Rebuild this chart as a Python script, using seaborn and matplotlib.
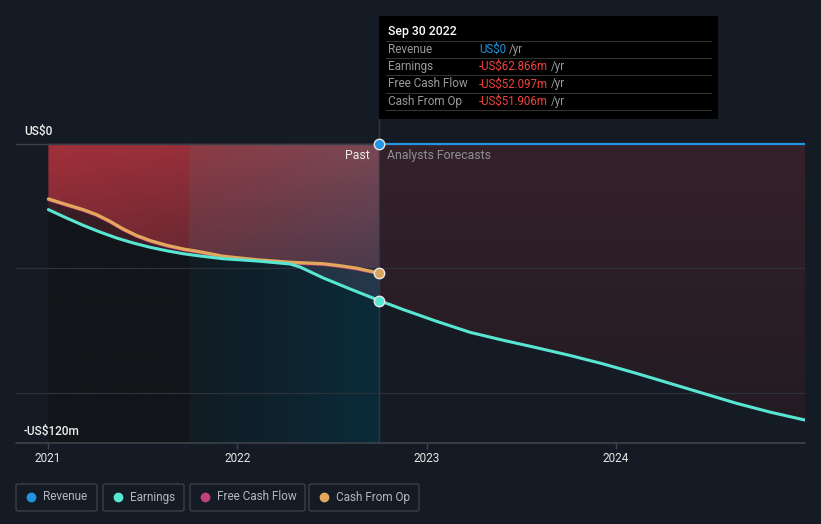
import numpy as np
import pandas as pd
import matplotlib
matplotlib.use("Agg")
import matplotlib.pyplot as plt
import seaborn as sns
from matplotlib.colors import to_rgba
from matplotlib.patches import Rectangle, FancyBboxPatch

# ---------------- data (US$ m, decimal years) ----------------
earn_past_t = [2021.002, 2021.099, 2021.186, 2021.275, 2021.363, 2021.451, 2021.539, 2021.627,
               2021.715, 2021.803, 2021.926, 2022.103, 2022.278, 2022.331, 2022.454, 2022.595,
               2022.750]
earn_past_v = [-26.4, -29.8, -32.7, -35.4, -37.8, -39.8, -41.5, -42.9,
               -44.1, -45.0, -46.1, -47.0, -48.2, -49.4, -53.8, -58.2,
               -62.866]

earn_fc_t = [2022.750, 2022.877, 2023.053, 2023.229, 2023.405, 2023.582, 2023.758, 2023.934,
             2024.110, 2024.286, 2024.462, 2024.638, 2024.814, 2024.999]
earn_fc_v = [-62.866, -66.5, -71.2, -75.6, -78.8, -81.8, -84.9, -88.3,
             -92.1, -96.1, -100.1, -104.1, -107.6, -110.8]

cfo_t = [2021.002, 2021.099, 2021.186, 2021.257, 2021.328, 2021.398, 2021.469, 2021.539,
         2021.627, 2021.715, 2021.803, 2021.926, 2022.103, 2022.278, 2022.454, 2022.543,
         2022.631, 2022.750]
cfo_v = [-22.1, -24.4, -26.4, -28.4, -31.1, -34.2, -36.8, -38.8,
         -40.7, -42.2, -43.3, -45.1, -46.5, -47.5, -48.1, -48.9,
         -49.9, -51.906]

fcf_t = cfo_t
fcf_v = [-22.4, -24.7, -26.7, -28.7, -31.4, -34.5, -37.1, -39.1,
         -41.0, -42.5, -43.6, -45.4, -46.8, -47.8, -48.4, -49.2,
         -50.2, -52.097]

rev_fc_t = [2022.750, 2024.999]
rev_fc_v = [0.0, 0.0]

year_ticks = [2021, 2022, 2023, 2024]
legend_names = ["Revenue", "Earnings", "Free Cash Flow", "Cash From Op"]

# ---------------- style ----------------
BG = "#151b24"
C_REV = "#2394df"
C_EARN = "#58e6d2"
C_FCF = "#c2407e"
C_CFO = "#e2a85c"

sns.set_style("dark")
plt.rcParams["font.family"] = ["Roboto", "DejaVu Sans"]

W, H = 821, 524
fig = plt.figure(figsize=(W / 100, H / 100), dpi=100, facecolor=BG)

PXY = 189.3          # px per year
PXM = 2.497          # px per US$m


def xd(px):
    return 2021 + (px - 48) / PXY


def yd(py):
    return -(py - 144) / PXM


def fx(px):
    return px / W


def fy(py):
    return 1 - py / H


ax = fig.add_axes([fx(16), fy(443), (805 - 16) / W, 443 / H])
ax.set_facecolor(BG)
for s in ax.spines.values():
    s.set_visible(False)
ax.grid(False)

X0, X1 = xd(16), xd(805)
Y0, Y1 = -120, yd(0)

past_t = np.array(cfo_t)
cfo = np.array(cfo_v)
earn_t = np.array(earn_past_t)
earn = np.array(earn_past_v)


def grad(poly, ext, tl, tr, bl, br, z):
    n = 64
    tl, tr, bl, br = [np.array(to_rgba(c)) for c in (tl, tr, bl, br)]
    u = np.linspace(0, 1, n)[None, :, None]
    v = np.linspace(0, 1, n)[:, None, None]
    arr = (1 - v) * ((1 - u) * tl + u * tr) + v * ((1 - u) * bl + u * br)
    im = ax.imshow(arr, extent=ext, origin="upper", aspect="auto", zorder=z,
                   interpolation="bilinear")
    im.set_clip_path(poly.get_paths()[0], transform=ax.transData)
    return im


HL = xd(189)   # start of last-year highlight
PE = 2022.75   # present

# polygons (invisible, used as clips)
p_red = ax.fill_between(past_t, 0, cfo, facecolor="none", edgecolor="none", lw=0)
p_mid = ax.fill_between(earn_t, earn, np.interp(earn_t, past_t, cfo),
                        facecolor="none", edgecolor="none", lw=0)
p_low = ax.fill_between(earn_t, earn, -120, facecolor="none", edgecolor="none", lw=0)
p_fc = ax.fill_between(earn_fc_t, 0, earn_fc_v, facecolor="none", edgecolor="none", lw=0)

# region fills
grad(p_red, [2021.0, HL + 0.002, -55, 0], "#a2303a", "#98303a", "#6a2630", "#5e2630", 1)
grad(p_red, [HL, PE, -55, 0], "#8e3b44", "#7a4855", "#5a3440", "#463a4c", 1.1)
grad(p_mid, [2021.0, HL + 0.002, -50, -20], "#3c1e26", "#3a1e26", "#361c24", "#341c24", 1)
grad(p_mid, [HL, PE, -65, -40], "#202c38", "#26384a", "#202c38", "#24384a", 1.1)
grad(p_low, [2021.0, HL + 0.002, -120, -20], "#121519", "#121519", "#121519", "#121519", 1)
grad(p_low, [HL, PE, -120, -40], "#111b23", "#0a2b39", "#111b23", "#0a2b39", 1.1)
grad(p_fc, [PE, 2025.0, -115, 0], "#35212a", "#35212a", "#221b23", "#221b23", 1)

# grid lines
for v in [-50, -100]:
    ax.plot([X0, X1], [v, v], color="#2c313a", lw=0.9, zorder=2)
ax.plot([X0, PE], [0, 0], color="#3a3f48", lw=1.0, zorder=2)
ax.plot([X0, X1], [-120, -120], color="#3d424b", lw=1.2, zorder=6, clip_on=False)
ax.plot([PE, PE], [-120, yd(119)], color="#2a3846", lw=1.0, zorder=2, clip_on=False)

# lines via seaborn
df_fcf = pd.DataFrame({"t": fcf_t, "v": fcf_v})
df_cfo = pd.DataFrame({"t": cfo_t, "v": cfo_v})
df_ep = pd.DataFrame({"t": earn_past_t, "v": earn_past_v})
df_ef = pd.DataFrame({"t": earn_fc_t, "v": earn_fc_v})
df_rev = pd.DataFrame({"t": rev_fc_t, "v": rev_fc_v})

sns.lineplot(data=df_fcf, x="t", y="v", ax=ax, color=C_FCF, lw=2.2, zorder=4, sort=False)
sns.lineplot(data=df_cfo, x="t", y="v", ax=ax, color=C_CFO, lw=2.3, zorder=5, sort=False)
sns.lineplot(data=df_ep, x="t", y="v", ax=ax, color=C_EARN, lw=2.2, zorder=5, sort=False)
sns.lineplot(data=df_ef, x="t", y="v", ax=ax, color=C_EARN, lw=2.2, zorder=5, sort=False)
sns.lineplot(data=df_rev, x="t", y="v", ax=ax, color=C_REV, lw=1.6, zorder=5, sort=False)

# present markers
for val, c in [(rev_fc_v[0], C_REV), (earn_fc_v[0], C_EARN), (cfo_v[-1], "#d9a55e")]:
    ax.plot([PE], [val], marker="o", ms=7.5, mfc=c, mec="#e8e8e8", mew=1.0, zorder=7,
            clip_on=False)

ax.set_xlim(X0, X1)
ax.set_ylim(Y0, Y1)
ax.set_xlabel("")
ax.set_ylabel("")
ax.set_yticks([])
ax.set_xticks(year_ticks)
ax.set_xticklabels([str(y) for y in year_ticks], color="#e6e6e6", fontsize=8.5)
ax.tick_params(axis="x", length=4, width=1, color="#3d424b", pad=2.5, bottom=True)
ax.tick_params(axis="y", left=False)

# axis texts
fig.text(fx(24), fy(132), "US$0", color="#f0f0f0", fontsize=8.5, fontweight="medium",
         va="center", ha="left")
fig.text(fx(24), fy(432), "-US$120m", color="#f0f0f0", fontsize=8.5, fontweight="medium",
         va="center", ha="left")
fig.text(fx(370), fy(156), "Past", color="#ececec", fontsize=8.8, va="center", ha="right")
fig.text(fx(387), fy(156), "Analysts Forecasts", color="#8c9096", fontsize=8.8,
         va="center", ha="left")

# tooltip
fig.add_artist(Rectangle((fx(379), fy(119)), 339 / W, 103 / H, transform=fig.transFigure,
                         facecolor="#000000", edgecolor="none", zorder=10))
fig.text(fx(388), fy(31), "Sep 30 2022", color="#ffffff", fontsize=8.8,
         fontweight="medium", va="center", ha="left", zorder=11)
for ly in [41, 58, 75, 93, 110]:
    fig.add_artist(plt.Line2D([fx(386), fx(711)], [fy(ly), fy(ly)], transform=fig.transFigure,
                              color="#333333", lw=0.8, zorder=11))
rows = [("Revenue", "US$0", C_REV), ("Earnings", "-US$62.866m", "#f0433f"),
        ("Free Cash Flow", "-US$52.097m", "#f0433f"), ("Cash From Op", "-US$51.906m", "#f0433f")]
fig.canvas.draw()
rend = fig.canvas.get_renderer()
for i, (lab, val, c) in enumerate(rows):
    yy = [49.5, 66.5, 84, 101.5][i]
    fig.text(fx(388), fy(yy), lab, color="#9a9a9a", fontsize=8.5, va="center", ha="left", zorder=11)
    t = fig.text(fx(479), fy(yy), val, color=c, fontsize=8.3, va="center", ha="left", zorder=11)
    bb = t.get_window_extent(rend)
    fig.text(fx(bb.x1 + 3), fy(yy), "/yr", color="#9a9a9a", fontsize=8.3, va="center",
             ha="left", zorder=11)

# legend
boxes = [(16, 97), (103, 184), (190, 305), (309, 419)]
lcols = [C_REV, C_EARN, C_FCF, C_CFO]
for (x0, x1), name, c in zip(boxes, legend_names, lcols):
    fig.add_artist(FancyBboxPatch((fx(x0), fy(511)), (x1 - x0) / W, 27 / H,
                                  boxstyle="round,pad=0,rounding_size=0.003",
                                  transform=fig.transFigure, facecolor="none",
                                  edgecolor="#3a3f48", lw=1.0))
    fig.add_artist(plt.Line2D([fx(x0 + 15)], [fy(497)], marker="o", ms=6, mfc=c, mec=c,
                              transform=fig.transFigure))
    fig.text(fx(x0 + 27), fy(497), name, color="#b4b8be", fontsize=8.5, va="center", ha="left")

fig.savefig("out.png", dpi=100, facecolor=BG)
